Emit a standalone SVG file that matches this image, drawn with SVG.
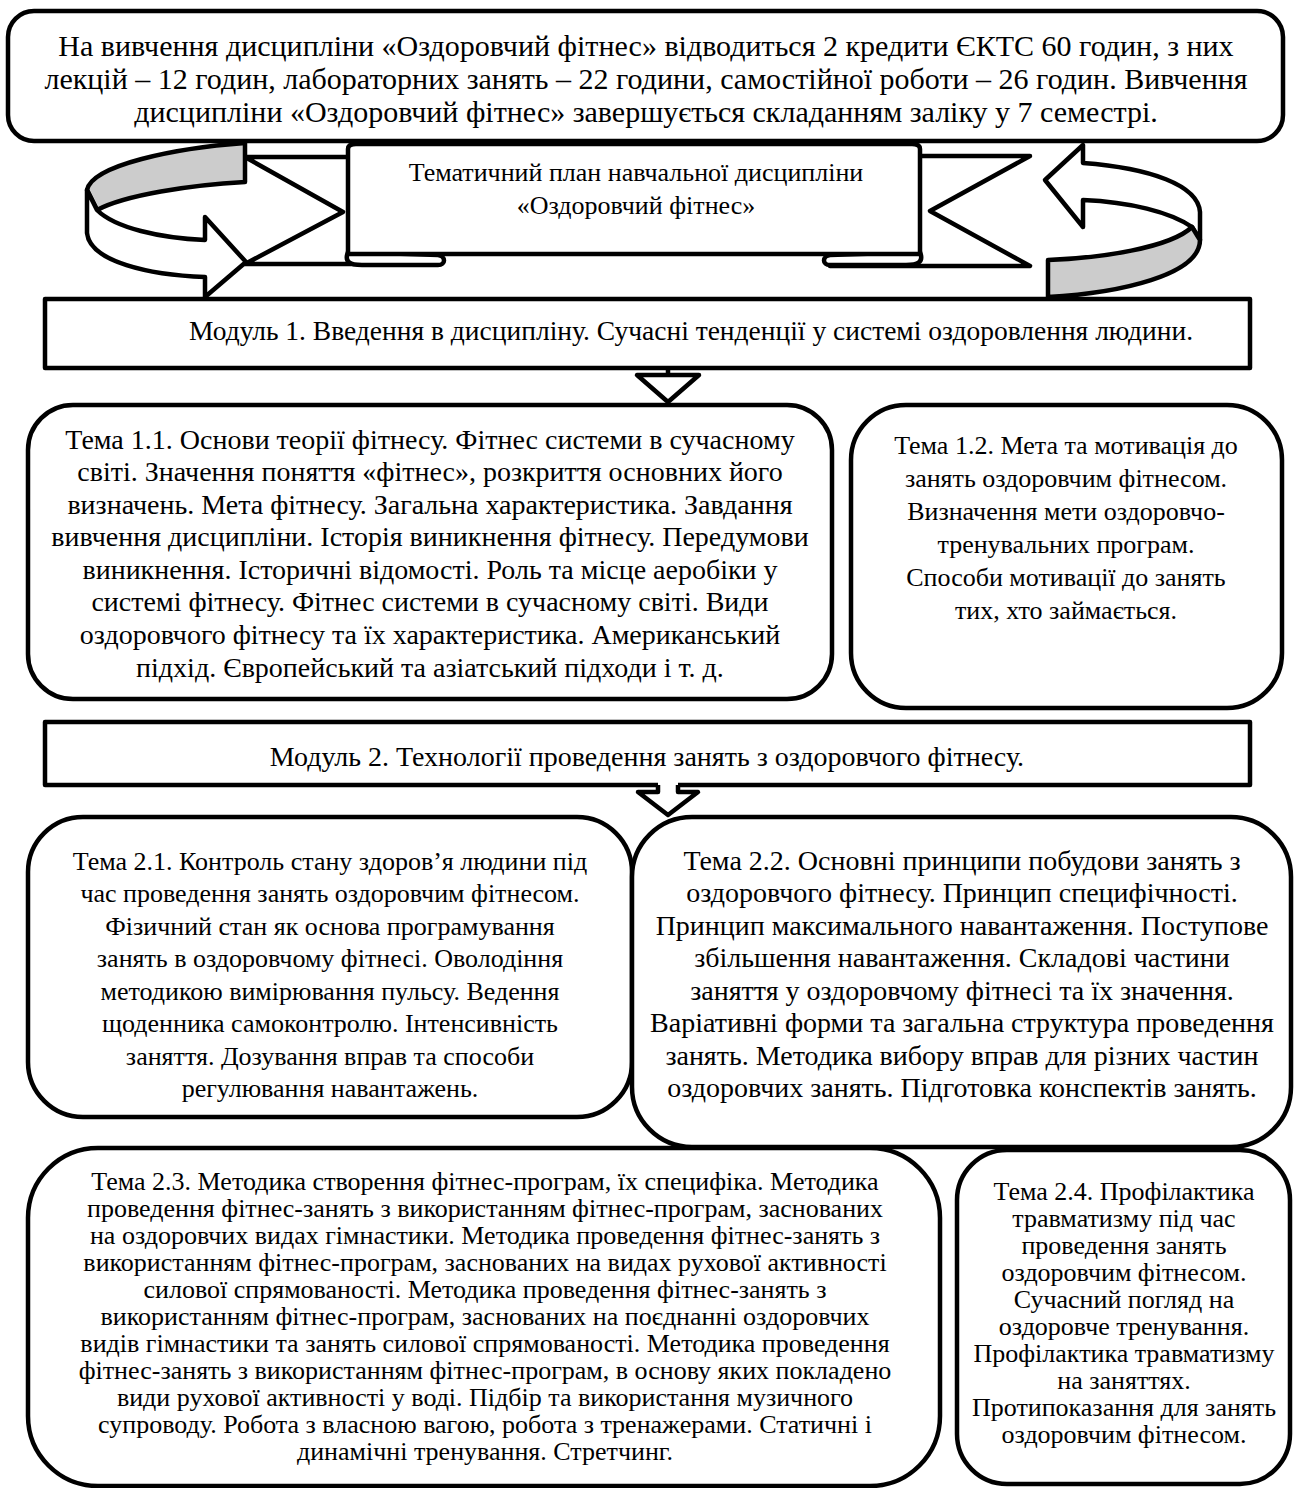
<svg xmlns="http://www.w3.org/2000/svg" width="1294" height="1488" viewBox="0 0 1294 1488" font-family="'Liberation Serif', 'Times New Roman', serif">
<style>
.b{fill:#fff;stroke:#000;stroke-width:4.5;stroke-linejoin:round}
.ln{fill:none;stroke:#000;stroke-width:4.5;stroke-linejoin:round}
.g{fill:#cccccc;stroke:#000;stroke-width:4.5;stroke-linejoin:round}
text{fill:#000;text-anchor:middle}
.f30{font-size:30px}
.f28{font-size:28px}
.f27{font-size:27.5px}
.f26{font-size:26px}
</style>
<rect width="1294" height="1488" fill="#fff"/>
<g id="intro">
<rect class="b" x="8" y="11" width="1275" height="130" rx="26"/>
<text class="f30" x="646" y="56">На вивчення дисципліни «Оздоровчий фітнес» відводиться 2 кредити ЄКТС 60 годин, з них</text>
<text class="f30" x="646" y="89">лекцій – 12 годин, лабораторних занять – 22 години, самостійної роботи – 26 годин. Вивчення</text>
<text class="f30" x="646" y="122">дисципліни «Оздоровчий фітнес» завершується складанням заліку у 7 семестрі.</text>
</g>
<g id="plan">
<polygon class="b" points="440,157 245,157 343,212 245,264 440,264"/>
<polygon class="b" points="830,156 1030,156 930,211 1030,266 830,266"/>
<path class="b" d="M348,252 C344,262 350,265 362,265 L438,265 C446,265 446,256 438,255 Z"/>
<path class="b" d="M920,252 C924,262 918,265 906,265 L830,265 C822,265 822,256 830,255 Z"/>
<path class="b" d="M348,149 Q348,144 356,144 L912,144 Q920,144 920,149 L920,254 L348,254 Z"/>
<text class="f26" x="636" y="181">Тематичний план навчальної дисципліни</text>
<text class="f26" x="636" y="214">«Оздоровчий фітнес»</text>
</g>
<g id="loop-left">
<path class="g" d="M245,143 C175,148 92,165 87,190 L97,210 C125,195 190,185 245,182 Z"/>
<path class="b" d="M87,190 L97,210 C115,228 160,238 205,240 L205,217 L246,262 L205,297 L205,277 C150,275 90,262 87,233 Z"/>
</g>
<g id="loop-right">
<path class="b" d="M1083,163 C1150,168 1198,185 1200,212 L1200,240 L1192,227 C1170,212 1130,202 1083,200 L1083,227 L1045,180 L1083,145 Z"/>
<path class="g" d="M1192,227 L1200,240 C1200,275 1120,293 1048,297 L1048,260 C1100,258 1170,248 1192,227 Z"/>
</g>
<g id="module1">
<rect class="b" x="45" y="299" width="1205" height="69"/>
<text class="f27" x="691" y="340">Модуль 1. Введення в дисципліну. Сучасні тенденції у системі оздоровлення людини.</text>
</g>
<g id="topic11">
<rect class="b" x="28" y="405" width="804" height="294" rx="45"/>
<text class="f28" x="430" y="449">Тема 1.1. Основи теорії фітнесу. Фітнес системи в сучасному</text>
<text class="f28" x="430" y="481">світі. Значення поняття «фітнес», розкриття основних його</text>
<text class="f28" x="430" y="514">визначень. Мета фітнесу. Загальна характеристика. Завдання</text>
<text class="f28" x="430" y="546">вивчення дисципліни. Історія виникнення фітнесу. Передумови</text>
<text class="f28" x="430" y="579">виникнення. Історичні відомості. Роль та місце аеробіки у</text>
<text class="f28" x="430" y="611">системі фітнесу. Фітнес системи в сучасному світі. Види</text>
<text class="f28" x="430" y="644">оздоровчого фітнесу та їх характеристика. Американський</text>
<text class="f28" x="430" y="677">підхід. Європейський та азіатський підходи і т. д.</text>
</g>
<g id="topic12">
<rect class="b" x="851" y="405" width="431" height="303" rx="55"/>
<text class="f26" x="1066" y="454">Тема 1.2. Мета та мотивація до</text>
<text class="f26" x="1066" y="487">занять оздоровчим фітнесом.</text>
<text class="f26" x="1066" y="520">Визначення мети оздоровчо-</text>
<text class="f26" x="1066" y="553">тренувальних програм.</text>
<text class="f26" x="1066" y="586">Способи мотивації до занять</text>
<text class="f26" x="1066" y="619">тих, хто займається.</text>
</g>
<g id="module2">
<rect class="b" x="45" y="722" width="1205" height="63"/>
<text class="f28" x="647" y="766">Модуль 2. Технології проведення занять з оздоровчого фітнесу.</text>
</g>
<g id="topic21">
<rect class="b" x="28" y="817" width="604" height="300" rx="55"/>
<text class="f26" x="330" y="870">Тема 2.1. Контроль стану здоров’я людини під</text>
<text class="f26" x="330" y="902">час проведення занять оздоровчим фітнесом.</text>
<text class="f26" x="330" y="935">Фізичний стан як основа програмування</text>
<text class="f26" x="330" y="967">занять в оздоровчому фітнесі. Оволодіння</text>
<text class="f26" x="330" y="1000">методикою вимірювання пульсу. Ведення</text>
<text class="f26" x="330" y="1032">щоденника самоконтролю. Інтенсивність</text>
<text class="f26" x="330" y="1065">заняття. Дозування вправ та способи</text>
<text class="f26" x="330" y="1097">регулювання навантажень.</text>
</g>
<g id="topic22">
<rect class="b" x="632" y="817" width="659" height="330" rx="60"/>
<text class="f28" x="962" y="870">Тема 2.2. Основні принципи побудови занять з</text>
<text class="f28" x="962" y="902">оздоровчого фітнесу. Принцип специфічності.</text>
<text class="f28" x="962" y="935">Принцип максимального навантаження. Поступове</text>
<text class="f28" x="962" y="967">збільшення навантаження. Складові частини</text>
<text class="f28" x="962" y="1000">заняття у оздоровчому фітнесі та їх значення.</text>
<text class="f28" x="962" y="1032">Варіативні форми та загальна структура проведення</text>
<text class="f28" x="962" y="1065">занять. Методика вибору вправ для різних частин</text>
<text class="f28" x="962" y="1097">оздоровчих занять. Підготовка конспектів занять.</text>
</g>
<g id="topic23">
<rect class="b" x="28" y="1148" width="912" height="338" rx="70"/>
<text class="f26" x="485" y="1190">Тема 2.3. Методика створення фітнес-програм, їх специфіка. Методика</text>
<text class="f26" x="485" y="1217">проведення фітнес-занять з використанням фітнес-програм, заснованих</text>
<text class="f26" x="485" y="1244">на оздоровчих видах гімнастики. Методика проведення фітнес-занять з</text>
<text class="f26" x="485" y="1271">використанням фітнес-програм, заснованих на видах рухової активності</text>
<text class="f26" x="485" y="1298">силової спрямованості. Методика проведення фітнес-занять з</text>
<text class="f26" x="485" y="1325">використанням фітнес-програм, заснованих на поєднанні оздоровчих</text>
<text class="f26" x="485" y="1352">видів гімнастики та занять силової спрямованості. Методика проведення</text>
<text class="f26" x="485" y="1379">фітнес-занять з використанням фітнес-програм, в основу яких покладено</text>
<text class="f26" x="485" y="1406">види рухової активності у воді. Підбір та використання музичного</text>
<text class="f26" x="485" y="1433">супроводу. Робота з власною вагою, робота з тренажерами. Статичні і</text>
<text class="f26" x="485" y="1460">динамічні тренування. Стретчинг.</text>
</g>
<g id="topic24">
<rect class="b" x="957" y="1150" width="333" height="334" rx="50"/>
<text class="f26" x="1124" y="1200">Тема 2.4. Профілактика</text>
<text class="f26" x="1124" y="1227">травматизму під час</text>
<text class="f26" x="1124" y="1254">проведення занять</text>
<text class="f26" x="1124" y="1281">оздоровчим фітнесом.</text>
<text class="f26" x="1124" y="1308">Сучасний погляд на</text>
<text class="f26" x="1124" y="1335">оздоровче тренування.</text>
<text class="f26" x="1124" y="1362">Профілактика травматизму</text>
<text class="f26" x="1124" y="1389">на заняттях.</text>
<text class="f26" x="1124" y="1416">Протипоказання для занять</text>
<text class="f26" x="1124" y="1443">оздоровчим фітнесом.</text>
</g>
<g id="connectors">
<line class="ln" x1="668" y1="368" x2="668" y2="375"/>
<polygon class="b" points="637,375 699,375 668,402"/>
<polygon fill="#fff" points="658,780 658,792 638,792 668,815 698,792 678,792 678,780"/>
<polyline class="ln" points="658,785 658,792 638,792 668,815 698,792 678,792 678,785"/>
</g>
</svg>
